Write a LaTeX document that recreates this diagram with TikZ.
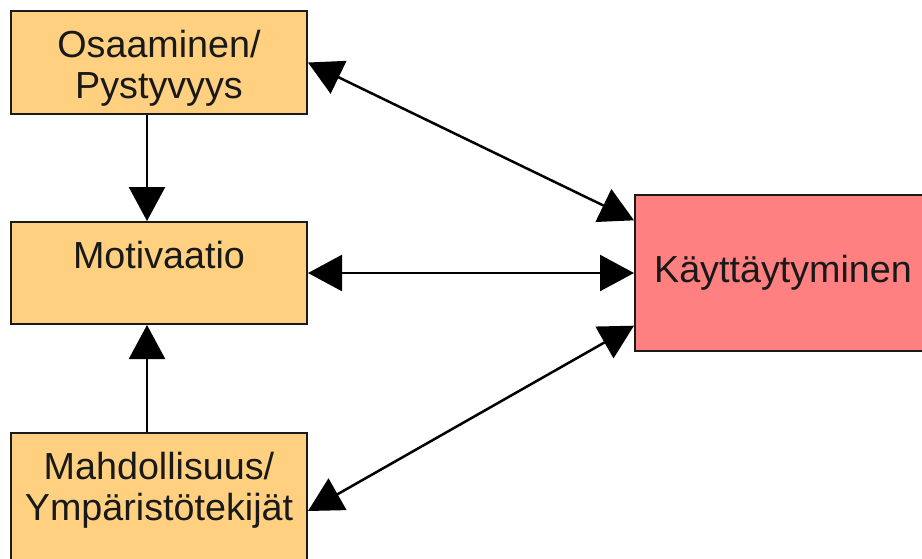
\documentclass[tikz,border=0pt]{standalone}
\usepackage{fontspec}
\setmainfont{Liberation Sans}
\usetikzlibrary{arrows.meta,calc}

\definecolor{boxorange}{HTML}{FFD080}
\definecolor{boxred}{HTML}{FF8080}
\definecolor{edge}{HTML}{1A1A1A}

\tikzset{
  factor/.style={draw=edge, line width=2pt, fill=boxorange, rectangle,
    minimum width=296pt, inner sep=0pt, anchor=north west},
  outcome/.style={draw=edge, line width=2pt, fill=boxred, rectangle,
    minimum width=296pt, minimum height=156pt, inner sep=0pt, anchor=north west,
    font=\fontsize{37.7}{41}\selectfont, text=black!90},
  caption/.style={anchor=north, inner sep=0pt, align=center,
    font=\fontsize{37.7}{41}\selectfont, text=black!90},
  link/.style={line width=2.5pt, draw=black,
    {Triangle[length=34pt,width=36pt]}-{Triangle[length=34pt,width=36pt]}},
  onelink/.style={line width=2.5pt, draw=black, -{Triangle[length=34pt,width=36pt]}}
}

\begin{document}
\begin{tikzpicture}[x=1pt,y=-1pt]
  \path[use as bounding box] (0,0) rectangle (922,558);
  \clip (0,0) rectangle (922,558);

  % factor boxes on the left
  \node[factor, minimum height=103pt] (osa) at (10,10) {};
  \node[factor, minimum height=102pt] (mot) at (10,221) {};
  \node[factor, minimum height=156pt] (mah) at (10,432) {};

  % outcome box on the right
  \node[outcome] (kay) at (634,194) {Käyttäytyminen};

  % box captions
  \node[caption] (osaT) at ($(osa.north)+(0,19.5)$) {Osaaminen/\\Pystyvyys};
  \node[caption] (motT) at ($(mot.north)+(0,19.5)$) {Motivaatio};
  \node[caption] (mahT) at ($(mah.north)+(0,20)$) {Mahdollisuus/\\Ympäristötekijät};

  % attachment points on the outcome box
  \coordinate (kayA) at ($(kay.north west)!1/6!(kay.south west)$);
  \coordinate (kayC) at ($(kay.north west)!5/6!(kay.south west)$);

  % vertical influences into motivation
  \draw[onelink] ([xshift=-12pt]osa.south) -- ([xshift=-12pt]mot.north);
  \draw[onelink] ([xshift=-12pt]mah.north) -- ([xshift=-12pt]mot.south);

  % two-way links with behaviour
  \draw[link] (osa.east) -- (kayA);
  \draw[link] (mot.east) -- (kay.west |- mot.east);
  \draw[link] (mah.east) -- (kayC);
\end{tikzpicture}
\end{document}
